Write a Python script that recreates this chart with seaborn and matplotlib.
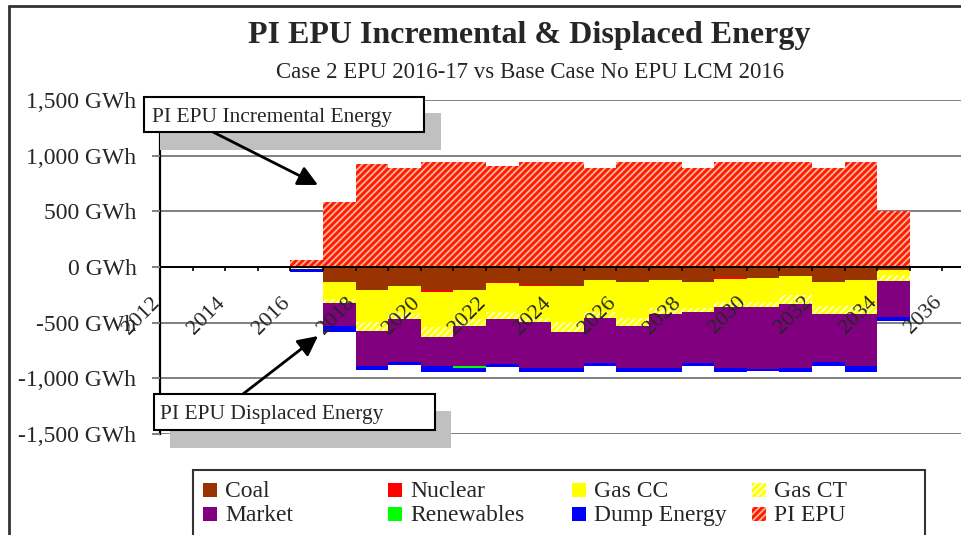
import numpy as np
import matplotlib.pyplot as plt
import seaborn as sns
from matplotlib.patches import Rectangle, FancyArrowPatch
from matplotlib.lines import Line2D
from matplotlib.ticker import FixedLocator, FuncFormatter

# yearly change vs base case, GWh (negative = displaced)
years = list(range(2015, 2037))
coal = [5, -3, -132, -204, -168, -204, -204, -132, -165, -174, -114,
        -138, -114, -132, -90, -102, -78, -138, -114, -30, 5, 5]
nuclear = [0, 0, 0, 0, 0, -18, 0, -15, -9, 0, 0,
           0, 0, 0, -18, 0, 0, 0, 0, 0, 0, 0]
gas_cc = [0, -9, -159, -288, -249, -321, -267, -255, -282, -318, -288,
          -318, -252, -234, -204, -210, -174, -210, -228, -45, 0, 0]
gas_ct = [0, -6, -30, -81, -48, -90, -57, -66, -36, -90, -54,
          -72, -54, -36, -45, -45, -78, -72, -78, -54, 0, 0]
market = [0, 0, -207, -312, -384, -252, -360, -399, -414, -324, -408,
          -381, -489, -456, -549, -561, -576, -432, -468, -324, 0, 0]
renewables = [0, 0, 0, 0, 0, 0, -15, 0, 0, 0, 0,
              0, 0, 0, 0, 0, 0, 0, 0, 0, 0, 0]
dump_energy = [0, -27, -54, -36, -33, -54, -36, -33, -36, -36, -24,
               -30, -30, -30, -36, -12, -36, -36, -54, -36, 0, 0]
pi_epu = [0, 65, 583, 923, 887, 940, 940, 905, 940, 940, 887,
          940, 940, 887, 940, 940, 940, 887, 940, 500, 0, 0]

y_ticks = [-1500, -1000, -500, 0, 500, 1000, 1500]

# name, values, face colour, hatch, hatch colour
series = [
    ("Coal", coal, "#993300", None, "#993300"),
    ("Nuclear", nuclear, "#ff0000", None, "#ff0000"),
    ("Gas CC", gas_cc, "#ffff00", None, "#ffff00"),
    ("Gas CT", gas_ct, "#ffff00", "/////", "#ffffc8"),
    ("Market", market, "#800080", None, "#800080"),
    ("Renewables", renewables, "#00ff00", None, "#00ff00"),
    ("Dump Energy", dump_energy, "#0000ff", None, "#0000ff"),
    ("PI EPU", pi_epu, "#ff1a00", "/////", "#ffb49c"),
]

sns.set_style("white")
plt.rcParams["font.family"] = ["Liberation Serif", "DejaVu Serif"]
plt.rcParams["hatch.linewidth"] = 1.3

W, H = 962, 535
fig = plt.figure(figsize=(W / 100, H / 100), dpi=100)
ax = fig.add_axes([160 / W, (H - 434) / H, 802 / W, 334 / H])


def fx(x):
    return x / W


def fy(y):
    return 1 - y / H


# stacked bars, positives up and negatives down from zero
pos_base = np.zeros(len(years))
neg_base = np.zeros(len(years))
for name, vals, face, hatch, hcol in series:
    v = np.array(vals, dtype=float)
    bottom = np.where(v >= 0, pos_base, neg_base)
    ax.bar(years, v, width=1.0, align="edge", bottom=bottom, color=face,
           edgecolor=hcol, hatch=hatch, linewidth=0, zorder=1)
    pos_base += np.clip(v, 0, None)
    neg_base += np.clip(v, None, 0)

for t in y_ticks:
    ax.axhline(t, color="#808080", lw=1.4, zorder=0.5)

ax.set_xlim(2012, 2036.6)
ax.set_ylim(-1500, 1500)
ax.set_axisbelow(False)

for s in ["top", "right"]:
    ax.spines[s].set_visible(False)
ax.spines["bottom"].set_position(("data", 0))
ax.spines["bottom"].set_color("black")
ax.spines["bottom"].set_linewidth(1.4)
ax.spines["left"].set_color("black")
ax.spines["left"].set_linewidth(1.6)

ax.yaxis.set_major_locator(FixedLocator(y_ticks))
ax.yaxis.set_major_formatter(FuncFormatter(lambda v, p: f"{int(v):,} GWh"))
ax.tick_params(axis="y", left=True, length=6, width=1.4, color="#808080",
               pad=11, labelsize=17)

ax.xaxis.set_major_locator(FixedLocator(list(range(2012, 2037, 2))))
ax.xaxis.set_minor_locator(FixedLocator(list(range(2013, 2037, 2))))
ax.tick_params(axis="x", which="both", bottom=True, direction="out",
               length=3, width=1.2, color="black")
ax.tick_params(axis="x", which="major", labelsize=16, pad=23)
for lab in ax.get_xticklabels():
    lab.set_rotation(45)
    lab.set_ha("right")
    lab.set_va("baseline")
    lab.set_rotation_mode("anchor")

# titles
fig.text(fx(529), fy(36), "PI EPU Incremental & Displaced Energy",
         ha="center", va="center", fontsize=23, fontweight="bold")
fig.text(fx(530), fy(72), "Case 2 EPU 2016-17 vs Base Case No EPU LCM 2016",
         ha="center", va="center", fontsize=16.5)

# outer chart frame
fig.add_artist(Line2D([fx(9), 1], [fy(6), fy(6)], color="#333333", lw=2))
fig.add_artist(Line2D([fx(9), fx(9)], [fy(6), 0], color="#333333", lw=2))


def px_rect(x0, y0, x1, y1, **kw):
    r = Rectangle((fx(x0), fy(y1)), (x1 - x0) / W, (y1 - y0) / H,
                  transform=fig.transFigure, **kw)
    fig.add_artist(r)
    return r


def px_arrow(x0, y0, x1, y1):
    a = FancyArrowPatch((fx(x0), fy(y0)), (fx(x1), fy(y1)),
                        transform=fig.transFigure,
                        arrowstyle="-|>,head_length=0.6,head_width=0.3",
                        color="black", lw=2, mutation_scale=20,
                        shrinkA=0, shrinkB=0, zorder=5.5)
    fig.add_artist(a)


# callout boxes with grey shadow
px_rect(160, 113, 441, 150, facecolor="#c0c0c0", edgecolor="none", zorder=5)
px_rect(144, 97, 424, 132, facecolor="white", edgecolor="black", lw=1.5,
        zorder=6)
fig.text(fx(152), fy(122), "PI EPU Incremental Energy", ha="left",
         va="baseline", fontsize=15.5, zorder=7)

px_rect(170, 411, 451, 448, facecolor="#c0c0c0", edgecolor="none", zorder=5)
px_rect(154, 394, 435, 430, facecolor="white", edgecolor="black", lw=1.5,
        zorder=6)
fig.text(fx(160), fy(419), "PI EPU Displaced Energy", ha="left",
         va="baseline", fontsize=15.5, zorder=7)

px_arrow(213, 132, 318, 185)
px_arrow(243, 394, 318, 336)

# legend, four equal columns in a box
px_rect(193, 470, 925, 540, facecolor="white", edgecolor="#333333", lw=1.5,
        zorder=4)
col_x = [203, 388, 572, 752]
row_y = [490, 514]
for i, (name, vals, face, hatch, hcol) in enumerate(series):
    cx = col_x[i % 4]
    cy = row_y[i // 4]
    px_rect(cx, cy - 7, cx + 14, cy + 7, facecolor=face, edgecolor=hcol,
            hatch=hatch, lw=0, zorder=5)
    fig.text(fx(cx + 22), fy(cy + 7), name, ha="left", va="baseline",
             fontsize=17, zorder=5)

fig.savefig("out.png", dpi=100)
